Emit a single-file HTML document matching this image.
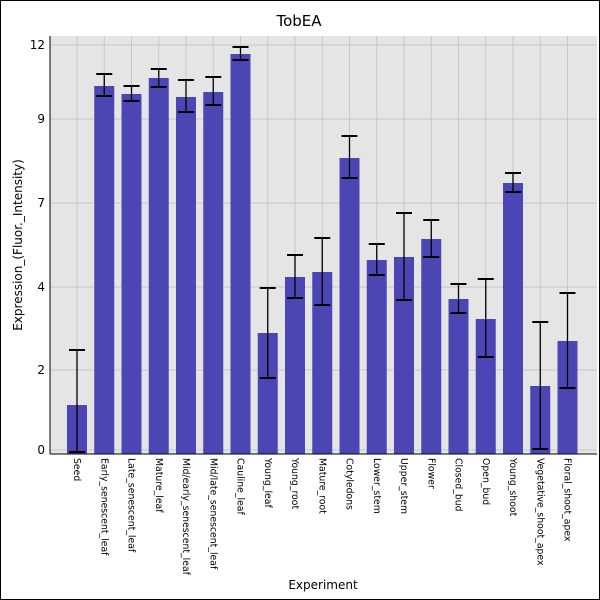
<!DOCTYPE html><html><head><style>body{margin:0;background:#fff}svg{display:block;font-family:"DejaVu Sans","Liberation Sans",sans-serif}</style></head><body>
<svg width="600" height="600" viewBox="0 0 600 600">
<rect x="0.5" y="0.5" width="599" height="599" fill="#fff" stroke="#000"/>
<text x="299" y="26" font-size="15" text-anchor="middle">TobEA</text>
<rect x="50" y="36" width="547" height="418" fill="#e5e5e5"/>
<g stroke="#c8c8c8" stroke-width="1" id="grid"></g>
<g id="bars"></g>
<line x1="50" y1="36" x2="50" y2="454" stroke="#000"/>
<line x1="50" y1="454" x2="597" y2="454" stroke="#000"/>
<g font-size="12" text-anchor="end" id="yl"></g>
<text transform="translate(22,245) rotate(-90)" font-size="12" text-anchor="middle">Expression_(Fluor._Intensity)</text>
<text x="323" y="589" font-size="12" text-anchor="middle">Experiment</text>
<g font-size="9.3" id="xl"></g>
</svg>
<script>
const ns="http://www.w3.org/2000/svg";
function el(p,t,a,txt){const e=document.createElementNS(ns,t);for(const k in a)e.setAttribute(k,a[k]);if(txt)e.textContent=txt;document.getElementById(p).appendChild(e);}
const names=["Seed","Early_senescent_leaf","Late_senescent_leaf","Mature_leaf","Mid/early_senescent_leaf","Mid/late_senescent_leaf","Cauline_leaf","Young_leaf","Young_root","Mature_root","Cotyledons","Lower_stem","Upper_stem","Flower","Closed_bud","Open_bud","Young_shoot","Vegetative_shoot_apex","Floral_shoot_apex"];
const tops=[405,86,94,78,97,92,54,333,277,272,158,260,257,239,299,319,183,386,341];
const err=[[350,452],[74,96],[86,101],[69,87],[80,112],[77,105],[47,60],[288,378],[255,298],[238,305],[136,178],[244,275],[213,300],[220,257],[284,313],[279,357],[173,192],[322,449],[293,388]];
const gy=[[450,"0"],[370,"2"],[287,"4"],[203,"7"],[119,"9"],[45,"12"]];
gy.forEach(g=>{el("grid","line",{x1:50,x2:597,y1:g[0],y2:g[0]});el("yl","text",{x:45,y:g[0]+4},g[1]);});
names.forEach((n,i)=>{const c=77+i*27.25;
el("grid","line",{x1:c,x2:c,y1:36,y2:454});
el("bars","rect",{x:c-10,y:tops[i],width:20,height:454-tops[i],fill:"#4b46b4"});
el("bars","line",{x1:c,x2:c,y1:err[i][0],y2:err[i][1],stroke:"#000","stroke-width":1.3});
el("bars","line",{x1:c-8,x2:c+8,y1:err[i][0],y2:err[i][0],stroke:"#000","stroke-width":2});
el("bars","line",{x1:c-8,x2:c+8,y1:err[i][1],y2:err[i][1],stroke:"#000","stroke-width":2});
el("xl","text",{transform:`translate(${c-3},458) rotate(90)`},n);});
</script>
</body></html>
